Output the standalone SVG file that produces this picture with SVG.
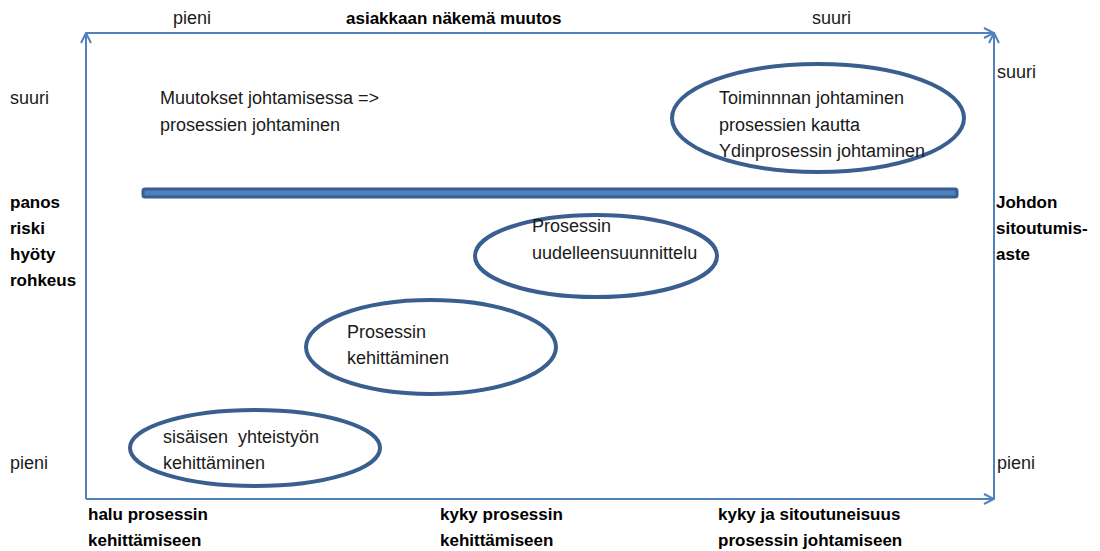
<svg xmlns="http://www.w3.org/2000/svg" width="1100" height="551" viewBox="0 0 1100 551">
<defs>
<style>
.t{font-family:"Liberation Sans",Arial,sans-serif;font-size:18px;fill:#1a1a1a}
.b{font-family:"Liberation Sans",Arial,sans-serif;font-size:17px;font-weight:bold;fill:#000}
.ax{stroke:#4F81BD;stroke-width:2;fill:none}
.el{stroke:#3A5F8F;stroke-width:4;fill:none}
</style>
<marker id="ah" viewBox="0 0 12 12" refX="11" refY="6" markerWidth="12" markerHeight="12" markerUnits="userSpaceOnUse" orient="auto">
<path d="M1,1 L11,6 L1,11" fill="none" stroke="#4F81BD" stroke-width="2"/>
</marker>
</defs>
<rect width="1100" height="551" fill="#fff"/>
<g id="connectors">
<line class="ax" x1="86" y1="499" x2="86" y2="33" marker-end="url(#ah)"/>
<line class="ax" x1="86" y1="33" x2="994" y2="33" marker-end="url(#ah)"/>
<line class="ax" x1="994" y1="499" x2="994" y2="33" marker-end="url(#ah)"/>
<line class="ax" x1="86" y1="499" x2="994" y2="499" marker-end="url(#ah)"/>
</g>
<g id="bar">
<rect x="143" y="189" width="814" height="8" rx="2" fill="#4F81BD" stroke="#3A5F8F" stroke-width="3"/>
</g>
<g id="axis-labels">
<text class="t" x="173" y="24">pieni</text>
<text class="b" x="346" y="24">asiakkaan näkemä muutos</text>
<text class="t" x="812" y="24">suuri</text>
<text class="t" x="997" y="78">suuri</text>
<text class="t" x="10" y="104">suuri</text>
<text class="b" x="10" y="208">panos</text>
<text class="b" x="10" y="234">riski</text>
<text class="b" x="10" y="260">hyöty</text>
<text class="b" x="10" y="286">rohkeus</text>
<text class="b" x="996" y="208">Johdon</text>
<text class="b" x="996" y="234">sitoutumis-</text>
<text class="b" x="996" y="260">aste</text>
<text class="t" x="10" y="469">pieni</text>
<text class="t" x="997" y="469">pieni</text>
<text class="b" x="88" y="520">halu prosessin</text>
<text class="b" x="88" y="546">kehittämiseen</text>
<text class="b" x="440" y="520">kyky prosessin</text>
<text class="b" x="440" y="546">kehittämiseen</text>
<text class="b" x="718" y="520">kyky ja sitoutuneisuus</text>
<text class="b" x="718" y="546">prosessin johtamiseen</text>
</g>
<g id="note">
<text class="t" x="160" y="104">Muutokset johtamisessa =&gt;</text>
<text class="t" x="160" y="131">prosessien johtaminen</text>
</g>
<g id="node-johtaminen">
<ellipse class="el" cx="818" cy="118" rx="146" ry="54"/>
<text class="t" x="719" y="104">Toiminnnan johtaminen</text>
<text class="t" x="719" y="131">prosessien kautta</text>
<text class="t" x="719" y="157">Ydinprosessin johtaminen</text>
</g>
<g id="node-uudelleen">
<ellipse class="el" cx="596" cy="256" rx="121" ry="41"/>
<text class="t" x="532" y="232">Prosessin</text>
<text class="t" x="532" y="259">uudelleensuunnittelu</text>
</g>
<g id="node-kehittaminen">
<ellipse class="el" cx="431" cy="347" rx="125" ry="47"/>
<text class="t" x="347" y="338">Prosessin</text>
<text class="t" x="347" y="364">kehittäminen</text>
</g>
<g id="node-yhteistyo">
<ellipse class="el" cx="255" cy="448" rx="125" ry="38"/>
<text class="t" x="163" y="443" style="white-space:pre">sisäisen  yhteistyön</text>
<text class="t" x="163" y="469">kehittäminen</text>
</g>
</svg>
